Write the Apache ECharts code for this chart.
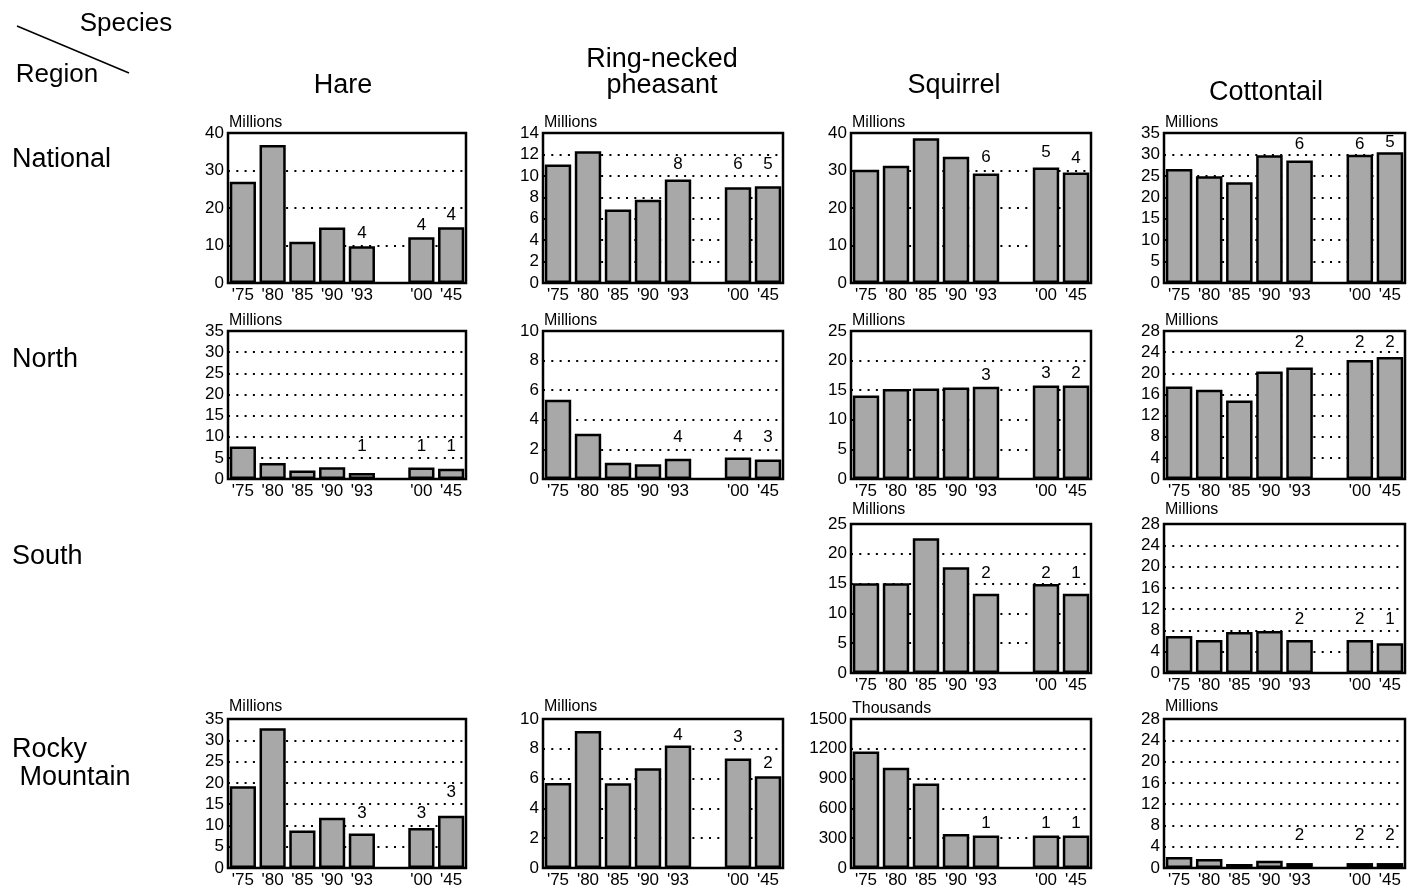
<!DOCTYPE html>
<html>
<head>
<meta charset="utf-8">
<script src="https://cdn.jsdelivr.net/npm/echarts@6/dist/echarts.min.js"></script>
<style>
  html, body { margin: 0; padding: 0; background: #fff; }
  #chart { width: 1418px; height: 892px; }
</style>
</head>
<body>
<div id="chart"></div>
<script>
// Category slots: the blank slot leaves the gap before the projections
const years = ["'75", "'80", "'85", "'90", "'93", "", "'00", "'45"];
const noteYears = ["'93", "'00", "'45"];

// National
const hareNational = [27, 36.8, 11, 14.8, 9.8, null, 12.2, 14.9];
const hareNationalNotes = [4, 4, 4];
const hareNationalNoteAt = [13.3, 15.5, 18.1];
const pheasantNational = [11.07, 12.3, 6.85, 7.76, 9.65, null, 8.93, 9.02];
const pheasantNationalNotes = [8, 6, 5];
const pheasantNationalNoteAt = [11.1, 11.1, 11.1];
const squirrelNational = [30.2, 31.3, 38.6, 33.7, 29.2, null, 30.8, 29.5];
const squirrelNationalNotes = [6, 5, 4];
const squirrelNationalNoteAt = [33.5, 34.8, 33.2];
const cottontailNational = [26.6, 24.9, 23.5, 29.8, 28.6, null, 29.9, 30.5];
const cottontailNationalNotes = [6, 6, 5];
const cottontailNationalNoteAt = [32.3, 32.3, 32.9];

// North
const hareNorth = [7.7, 3.8, 2.0, 2.8, 1.4, null, 2.7, 2.4];
const hareNorthNotes = [1, 1, 1];
const hareNorthNoteAt = [7.8, 7.8, 7.8];
const pheasantNorth = [5.36, 3.05, 1.1, 1.0, 1.36, null, 1.45, 1.31];
const pheasantNorthNotes = [4, 4, 3];
const pheasantNorthNoteAt = [2.8, 2.8, 2.8];
const squirrelNorth = [14.1, 15.2, 15.3, 15.45, 15.6, null, 15.8, 15.8];
const squirrelNorthNotes = [3, 3, 2];
const squirrelNorthNoteAt = [17.5, 17.9, 17.9];
const cottontailNorth = [17.5, 16.9, 14.85, 20.35, 21.1, null, 22.5, 23.06];
const cottontailNorthNotes = [2, 2, 2];
const cottontailNorthNoteAt = [25.9, 25.9, 25.9];

// South
const squirrelSouth = [15.07, 15.07, 22.6, 17.75, 13.3, null, 14.95, 13.3];
const squirrelSouthNotes = [2, 2, 1];
const squirrelSouthNoteAt = [16.8, 16.8, 16.8];
const cottontailSouth = [6.97, 6.2, 7.7, 7.9, 6.2, null, 6.2, 5.6];
const cottontailSouthNotes = [2, 2, 1];
const cottontailSouthNoteAt = [10.1, 10.1, 10.1];

// Rocky Mountain
const hareRocky = [19.2, 32.8, 8.8, 11.8, 8.1, null, 9.4, 12.3];
const hareRockyNotes = [3, 3, 3];
const hareRockyNoteAt = [12.9, 12.9, 17.8];
const pheasantRocky = [5.7, 9.19, 5.69, 6.7, 8.22, null, 7.35, 6.16];
const pheasantRockyNotes = [4, 3, 2];
const pheasantRockyNoteAt = [8.9, 8.8, 7.05];
const squirrelRocky = [1173, 1010, 850, 343, 327, null, 327, 327];
const squirrelRockyNotes = [1, 1, 1];
const squirrelRockyNoteAt = [450, 450, 450];
const cottontailRocky = [2.06, 1.68, 0.75, 1.37, 0.93, null, 0.93, 0.93];
const cottontailRockyNotes = [2, 2, 2];
const cottontailRockyNoteAt = [6.2, 6.2, 6.2];

// Axis scales per panel: [max, step]
const hareNationalScale = [40, 10];
const pheasantNationalScale = [14, 2];
const squirrelNationalScale = [40, 10];
const cottontailNationalScale = [35, 5];
const hareNorthScale = [35, 5];
const pheasantNorthScale = [10, 2];
const squirrelNorthScale = [25, 5];
const cottontailNorthScale = [28, 4];
const squirrelSouthScale = [25, 5];
const cottontailSouthScale = [28, 4];
const hareRockyScale = [35, 5];
const pheasantRockyScale = [10, 2];
const squirrelRockyScale = [1500, 300];
const cottontailRockyScale = [28, 4];

const speciesNames = ['Hare', 'Ring-necked\npheasant', 'Squirrel', 'Cottontail'];
const regionNames = ['National', 'North', 'South', 'Rocky\n Mountain'];

const panels = [
  { row: 0, col: 0, values: hareNational, notes: hareNationalNotes, noteAt: hareNationalNoteAt, scale: hareNationalScale, unit: 'Millions' },
  { row: 0, col: 1, values: pheasantNational, notes: pheasantNationalNotes, noteAt: pheasantNationalNoteAt, scale: pheasantNationalScale, unit: 'Millions' },
  { row: 0, col: 2, values: squirrelNational, notes: squirrelNationalNotes, noteAt: squirrelNationalNoteAt, scale: squirrelNationalScale, unit: 'Millions' },
  { row: 0, col: 3, values: cottontailNational, notes: cottontailNationalNotes, noteAt: cottontailNationalNoteAt, scale: cottontailNationalScale, unit: 'Millions' },
  { row: 1, col: 0, values: hareNorth, notes: hareNorthNotes, noteAt: hareNorthNoteAt, scale: hareNorthScale, unit: 'Millions' },
  { row: 1, col: 1, values: pheasantNorth, notes: pheasantNorthNotes, noteAt: pheasantNorthNoteAt, scale: pheasantNorthScale, unit: 'Millions' },
  { row: 1, col: 2, values: squirrelNorth, notes: squirrelNorthNotes, noteAt: squirrelNorthNoteAt, scale: squirrelNorthScale, unit: 'Millions' },
  { row: 1, col: 3, values: cottontailNorth, notes: cottontailNorthNotes, noteAt: cottontailNorthNoteAt, scale: cottontailNorthScale, unit: 'Millions' },
  { row: 2, col: 2, values: squirrelSouth, notes: squirrelSouthNotes, noteAt: squirrelSouthNoteAt, scale: squirrelSouthScale, unit: 'Millions', gap: 6 },
  { row: 2, col: 3, values: cottontailSouth, notes: cottontailSouthNotes, noteAt: cottontailSouthNoteAt, scale: cottontailSouthScale, unit: 'Millions', gap: 6 },
  { row: 3, col: 0, values: hareRocky, notes: hareRockyNotes, noteAt: hareRockyNoteAt, scale: hareRockyScale, unit: 'Millions', gap: 4 },
  { row: 3, col: 1, values: pheasantRocky, notes: pheasantRockyNotes, noteAt: pheasantRockyNoteAt, scale: pheasantRockyScale, unit: 'Millions', gap: 4 },
  { row: 3, col: 2, values: squirrelRocky, notes: squirrelRockyNotes, noteAt: squirrelRockyNoteAt, scale: squirrelRockyScale, unit: 'Thousands' },
  { row: 3, col: 3, values: cottontailRocky, notes: cottontailRockyNotes, noteAt: cottontailRockyNoteAt, scale: cottontailRockyScale, unit: 'Millions', gap: 4 }
];

// Panel placement
const colLeft = [228, 543, 851, 1164];
const colWidth = [238, 240, 240, 241];
const rowTop = [133, 331, 524, 719];
const rowHeight = [150, 148, 149, 149];

const FONT = "'Liberation Sans', Arial, Helvetica, sans-serif";
const chart = echarts.init(document.getElementById('chart'), null, { renderer: 'canvas' });

const grid = [], xAxis = [], yAxis = [], series = [];
panels.forEach((p, i) => {
  grid.push({
    left: colLeft[p.col], top: rowTop[p.row],
    width: colWidth[p.col], height: rowHeight[p.row],
    show: true, borderColor: '#000', borderWidth: 2.5, backgroundColor: 'transparent'
  });
  xAxis.push({
    type: 'category', gridIndex: i, data: years, boundaryGap: true,
    axisLine: { show: false }, axisTick: { show: false },
    axisLabel: { color: '#000', fontSize: 17, fontFamily: FONT, margin: 4, interval: 0 },
    splitLine: { show: false }
  });
  yAxis.push({
    type: 'value', gridIndex: i, min: 0, max: p.scale[0], interval: p.scale[1],
    name: p.unit, nameLocation: 'end', nameGap: p.gap || 2,
    nameTextStyle: { color: '#000', fontSize: 16, fontFamily: FONT, align: 'left', verticalAlign: 'bottom', padding: [0, 0, 0, 1] },
    axisLine: { show: false }, axisTick: { show: false },
    axisLabel: { color: '#000', fontSize: 17, fontFamily: FONT, margin: 4, formatter: (v) => String(v) },
    splitLine: { show: true, lineStyle: { color: '#000', width: 2, type: [2, 6.3] } }
  });
  series.push({
    type: 'bar', xAxisIndex: i, yAxisIndex: i, data: p.values,
    barCategoryGap: '12%',
    itemStyle: { color: '#a8a8a8', borderColor: '#000', borderWidth: 2.5 },
    silent: true, animation: false
  });
  series.push({
    type: 'scatter', xAxisIndex: i, yAxisIndex: i,
    data: noteYears.map((y, k) => [y, p.noteAt[k]]),
    symbolSize: 1, itemStyle: { color: 'rgba(0,0,0,0)', opacity: 1 },
    label: {
      show: true, position: 'inside', color: '#000', fontSize: 17, fontFamily: FONT,
      formatter: (prm) => String(p.notes[prm.dataIndex])
    },
    silent: true, animation: false, z: 5
  });
});

// Header labels and corner key
const headerX = [343, 662, 954, 1266];
const headerY = [86, 73, 86, 93];
const regionY = [160, 360, 557, 764];
const graphic = [
  { type: 'line', shape: { x1: 17, y1: 26, x2: 129, y2: 73 }, style: { stroke: '#000', lineWidth: 1.5 } },
  { type: 'text', x: 126, y: 24, style: { text: 'Species', font: '26px ' + FONT, fill: '#000', align: 'center', verticalAlign: 'middle' } },
  { type: 'text', x: 57, y: 75, style: { text: 'Region', font: '26px ' + FONT, fill: '#000', align: 'center', verticalAlign: 'middle' } }
];
speciesNames.forEach((s, k) => {
  graphic.push({
    type: 'text', x: headerX[k], y: headerY[k],
    style: { text: s, font: '27px ' + FONT, fill: '#000', align: 'center', verticalAlign: 'middle', lineHeight: 26 }
  });
});
regionNames.forEach((r, k) => {
  graphic.push({
    type: 'text', x: 12, y: regionY[k],
    style: { text: r, font: '27px ' + FONT, fill: '#000', align: 'left', verticalAlign: 'middle', lineHeight: 28 }
  });
});

chart.setOption({
  animation: false,
  backgroundColor: '#fff',
  grid, xAxis, yAxis, series, graphic
});
</script>
</body>
</html>
